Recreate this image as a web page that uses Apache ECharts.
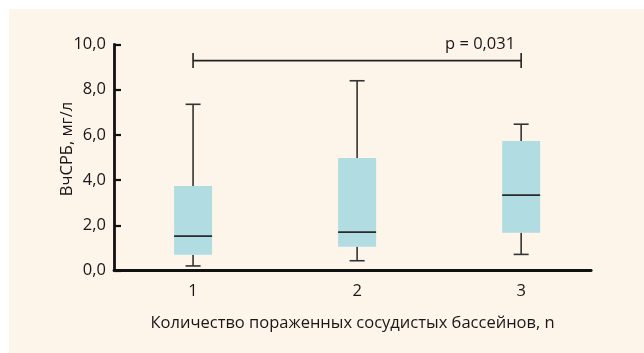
<!DOCTYPE html>
<html>
<head>
<meta charset="utf-8">
<script src="https://cdn.jsdelivr.net/npm/echarts@6/dist/echarts.min.js"></script>
<style>
  html, body { margin: 0; padding: 0; background: #ffffff; }
  #chart { width: 644px; height: 353px; }
</style>
</head>
<body>
<div id="chart"></div>
<script>
// Number of affected vascular territories
const categories = [1, 2, 3];
// hsCRP, mg/L: [min, Q1, median, Q3, max] per group
const whiskerLow  = [0.21, 0.44, 0.72];
const quartile1   = [0.71, 1.06, 1.68];
const medians     = [1.53, 1.70, 3.34];
const quartile3   = [3.74, 4.98, 5.73];
const whiskerHigh = [7.35, 8.39, 6.47];
// y-axis ticks
const yTicks = [0, 2, 4, 6, 8, 10];
// significance bracket between groups 1 and 3
const bracketFrom = 1;
const bracketTo = 3;
const bracketLevel = 9.28;
const bracketText = 'p = 0,031';

const FONT = 'Open Sans';
const FS = 16.5;
const INK = '#1a1718';

const boxData = categories.map((c, i) => [c, whiskerLow[i], quartile1[i], medians[i], quartile3[i], whiskerHigh[i]]);

const chart = echarts.init(document.getElementById('chart'), null, { renderer: 'canvas' });

chart.setOption({
  animation: false,
  backgroundColor: '#ffffff',
  graphic: [
    { type: 'rect', z: -10, shape: { x: 9, y: 9, width: 635, height: 344 }, style: { fill: '#fdf4ea' } },
    {
      type: 'text', rotation: Math.PI / 2, x: 67, y: 149, z: 10,
      style: { text: 'ВчСРБ, мг/л', font: FS + 'px "' + FONT + '"', fill: INK, align: 'center', verticalAlign: 'middle' }
    }
  ],
  grid: { left: 114, right: 52.8, top: 44.3, bottom: 82.3, containLabel: false },
  xAxis: {
    type: 'value', min: 0.518, max: 3.427,
    splitLine: { show: false },
    axisLine: { show: true, onZero: false, lineStyle: { color: '#111', width: 2.8 } },
    axisTick: { show: false },
    axisLabel: { customValues: categories, margin: 12, color: INK, fontFamily: FONT, fontSize: FS },
    name: 'Количество пораженных сосудистых бассейнов, n',
    nameLocation: 'middle', nameGap: 44,
    nameTextStyle: { color: INK, fontFamily: FONT, fontSize: FS }
  },
  yAxis: {
    type: 'value', min: 0, max: 10,
    axisLine: { show: true, lineStyle: { color: '#111', width: 2.8 } },
    axisTick: { show: true, inside: true, length: 7, customValues: yTicks, lineStyle: { color: '#111', width: 2.2 } },
    axisLabel: {
      customValues: yTicks, margin: 8, color: INK, fontFamily: FONT, fontSize: FS,
      formatter: v => v.toFixed(1).replace('.', ',')
    },
    splitLine: { show: false }
  },
  series: [
    {
      type: 'custom',
      data: boxData,
      encode: { x: 0, y: [1, 2, 3, 4, 5] },
      renderItem: function (params, api) {
        const x = api.value(0);
        const pLow = api.coord([x, api.value(1)]);
        const pQ1 = api.coord([x, api.value(2)]);
        const pMed = api.coord([x, api.value(3)]);
        const pQ3 = api.coord([x, api.value(4)]);
        const pHigh = api.coord([x, api.value(5)]);
        const cx = pMed[0];
        const halfBox = 19, halfCap = 7.5;
        const line = { stroke: '#333', lineWidth: 1.6 };
        return {
          type: 'group',
          children: [
            { type: 'line', shape: { x1: cx, y1: pHigh[1], x2: cx, y2: pQ3[1] }, style: line },
            { type: 'line', shape: { x1: cx, y1: pQ1[1], x2: cx, y2: pLow[1] }, style: line },
            { type: 'line', shape: { x1: cx - halfCap, y1: pHigh[1], x2: cx + halfCap, y2: pHigh[1] }, style: line },
            { type: 'line', shape: { x1: cx - halfCap, y1: pLow[1], x2: cx + halfCap, y2: pLow[1] }, style: line },
            { type: 'rect', shape: { x: cx - halfBox, y: pQ3[1], width: halfBox * 2, height: pQ1[1] - pQ3[1] }, style: { fill: '#b1dce1' } },
            { type: 'line', shape: { x1: cx - halfBox, y1: pMed[1], x2: cx + halfBox, y2: pMed[1] }, style: { stroke: '#2a2a2a', lineWidth: 1.8 } }
          ]
        };
      }
    },
    {
      type: 'custom',
      data: [[bracketFrom, bracketTo, bracketLevel]],
      encode: { x: [0, 1], y: 2 },
      renderItem: function (params, api) {
        const a = api.coord([api.value(0), api.value(2)]);
        const b = api.coord([api.value(1), api.value(2)]);
        const line = { stroke: '#222', lineWidth: 1.6 };
        return {
          type: 'group',
          children: [
            { type: 'line', shape: { x1: a[0], y1: a[1], x2: b[0], y2: b[1] }, style: line },
            { type: 'line', shape: { x1: a[0], y1: a[1] - 7.5, x2: a[0], y2: a[1] + 7.5 }, style: line },
            { type: 'line', shape: { x1: b[0], y1: b[1] - 7.5, x2: b[0], y2: b[1] + 7.5 }, style: line },
            {
              type: 'text', x: b[0] - 6, y: b[1] - 16,
              style: { text: bracketText, font: FS + 'px "' + FONT + '"', fill: INK, align: 'right', verticalAlign: 'middle' }
            }
          ]
        };
      }
    }
  ]
});
</script>
</body>
</html>
